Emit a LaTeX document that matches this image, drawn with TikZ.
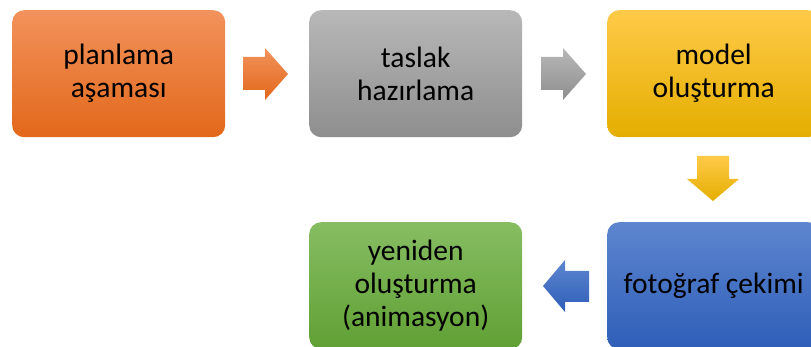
\documentclass[tikz,border=0pt]{standalone}
\usepackage{fontspec}
\setmainfont{Carlito}
\definecolor{orT}{RGB}{242,146,92}\definecolor{orM}{RGB}{240,124,44}\definecolor{orB}{RGB}{226,104,26}
\definecolor{grT}{RGB}{184,184,184}\definecolor{grM}{RGB}{165,165,165}\definecolor{grB}{RGB}{142,142,142}
\definecolor{yeT}{RGB}{255,202,72}\definecolor{yeM}{RGB}{254,192,0}\definecolor{yeB}{RGB}{228,174,0}
\definecolor{blT}{RGB}{94,134,207}\definecolor{blM}{RGB}{70,114,197}\definecolor{blB}{RGB}{46,94,184}
\definecolor{gnT}{RGB}{134,189,98}\definecolor{gnM}{RGB}{112,173,71}\definecolor{gnB}{RGB}{96,160,52}
\tikzset{
  box/.style={draw=none, rounded corners=12pt, minimum width=213pt, minimum height=127pt,
    inner sep=0pt, align=center, anchor=north west, text=black,
    font=\fontsize{29.5}{33}\selectfont},
  orange/.style={top color=orT, middle color=orM, bottom color=orB},
  gray/.style={top color=grT, middle color=grM, bottom color=grB},
  yellow/.style={top color=yeT, middle color=yeM, bottom color=yeB},
  blue/.style={top color=blT, middle color=blM, bottom color=blB},
  green/.style={top color=gnT, middle color=gnM, bottom color=gnB},
}
\begin{document}
\begin{tikzpicture}[x=1pt,y=-1pt]
\useasboundingbox (0,0) rectangle (811,347);
\clip (0,0) rectangle (811,347);
\node[box, orange] (plan) at (12,10) {planlama\\aşaması};
\node[box, gray] (tas) at (309,10) {taslak\\hazırlama};
\node[box, yellow] (mod) at (607,10) {model\\oluşturma};
\node[box, blue] (foto) at (607,222) {fotoğraf çekimi};
\node[box, green] (yen) at (309,222) {yeniden\\oluşturma\\(animasyon)};
% block arrows
\shade[orange] (243,57) -- (265,57) -- (265,48) -- (288,74) -- (265,100) -- (265,90) -- (243,90) -- cycle;
\shade[gray] (541,57) -- (563,57) -- (563,48) -- (586,74) -- (563,100) -- (563,90) -- (541,90) -- cycle;
\shade[yellow] (697,156) -- (729,156) -- (729,179) -- (739,179) -- (713,201) -- (687,179) -- (697,179) -- cycle;
\shade[blue] (589,271) -- (565,271) -- (565,260) -- (543,286) -- (565,312) -- (565,302) -- (589,302) -- cycle;
\end{tikzpicture}
\end{document}
